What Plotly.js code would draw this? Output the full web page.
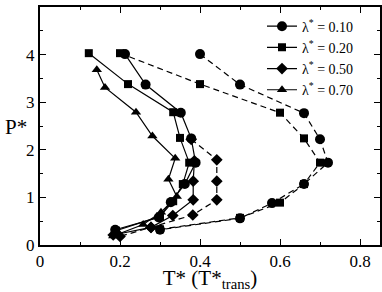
<!DOCTYPE html>
<html>
<head>
<meta charset="utf-8">
<script src="https://cdn.plot.ly/plotly-3.0.1.min.js"></script>
<style>html,body{margin:0;padding:0;background:#fff;}#chart{width:382px;height:292px;}</style>
</head>
<body>
<div id="chart"></div>
<script>
// lambda* = 0.10 (circles)
const circSolidT = [0.2125, 0.264, 0.352, 0.378, 0.389, 0.362, 0.327, 0.297, 0.188];
const circSolidP = [4.01, 3.37, 2.78, 2.24, 1.73, 1.28, 0.90, 0.58, 0.32];
const circDashT  = [0.40, 0.50, 0.66, 0.70, 0.72, 0.66, 0.58, 0.50, 0.30];
const circDashP  = [4.01, 3.37, 2.77, 2.22, 1.73, 1.28, 0.88, 0.56, 0.32];
// lambda* = 0.20 (squares)
const sqSolidT = [0.122, 0.22, 0.333, 0.35, 0.373, 0.357, 0.333, 0.30, 0.19];
const sqSolidP = [4.03, 3.38, 2.79, 2.25, 1.73, 1.28, 0.92, 0.60, 0.30];
const sqDashT  = [0.20, 0.40, 0.60, 0.66, 0.70, 0.66, 0.60, 0.50, 0.30];
const sqDashP  = [4.03, 3.38, 2.78, 2.24, 1.73, 1.28, 0.89, 0.57, 0.33];
// lambda* = 0.50 (diamonds)
const diaSolidT = [0.386, 0.383, 0.383, 0.332, 0.2775, 0.183];
const diaSolidP = [1.77, 1.34, 0.95, 0.62, 0.37, 0.21];
const diaDashT  = [0.378, 0.442, 0.442, 0.442, 0.382, 0.2775, 0.20];
const diaDashP  = [2.22, 1.79, 1.34, 0.95, 0.63, 0.37, 0.18];
// lambda* = 0.70 (triangles)
const triT = [0.142, 0.1625, 0.24, 0.281, 0.338, 0.321, 0.342, 0.3025, 0.258, 0.183];
const triP = [3.68, 3.31, 2.79, 2.29, 1.82, 1.38, 1.02, 0.69, 0.43, 0.19];

const legendLabels = ['0.10', '0.20', '0.50', '0.70'];
const xTickVals = [0, 0.2, 0.4, 0.6, 0.8];
const xTickText = ['0', '0.2', '0.4', '0.6', '0.8'];
const yTickVals = [0, 1, 2, 3, 4, 5];
const yTickText = ['0', '1', '2', '3', '4', '5'];

const FAM = 'Liberation Serif, serif';
function lname(v) {
  return 'λ<sup>*</sup> = ' + v;
}
function tr(x, y, sym, size, dash, name, show) {
  return {
    x: x, y: y, type: 'scatter', mode: 'lines+markers', name: name, showlegend: show,
    line: {color: '#000', width: 1.2, dash: dash},
    marker: {color: '#000', symbol: sym, size: size}
  };
}
const data = [
  tr(circSolidT, circSolidP, 'circle', 10, 'solid', lname(legendLabels[0]), true),
  tr(sqSolidT, sqSolidP, 'square', 8, 'solid', lname(legendLabels[1]), true),
  tr(diaSolidT, diaSolidP, 'diamond', 9, 'solid', lname(legendLabels[2]), true),
  tr(triT, triP, 'triangle-up', 9, 'solid', lname(legendLabels[3]), true),
  tr(circDashT, circDashP, 'circle', 10, '6px,4px', lname(legendLabels[0]), false),
  tr(sqDashT, sqDashP, 'square', 8, '6px,4px', lname(legendLabels[1]), false),
  tr(diaDashT, diaDashP, 'diamond', 9, '6px,4px', lname(legendLabels[2]), false)
];
const layout = {
  width: 382, height: 292,
  margin: {l: 40, r: 2, t: 7, b: 47},
  paper_bgcolor: '#fff', plot_bgcolor: '#fff',
  font: {family: FAM, size: 17, color: '#000'},
  showlegend: true,
  legend: {x: (262 - 40) / 340, xanchor: 'left', y: 0.985, yanchor: 'top', bgcolor: 'rgba(0,0,0,0)',
           font: {family: FAM, size: 14, color: '#000'}, tracegroupgap: 0, itemwidth: 30},
  xaxis: {
    range: [0, 0.85], tickvals: xTickVals, ticktext: xTickText,
    ticks: 'inside', ticklen: 6, tickwidth: 1, tickcolor: '#000',
    minor: {dtick: 0.1, ticks: 'inside', ticklen: 3, tickwidth: 1, tickcolor: '#000'},
    showline: true, linewidth: 2, linecolor: '#000', mirror: 'allticks',
    showgrid: false, zeroline: false,
    tickfont: {family: FAM, size: 17, color: '#000'},
    title: {text: 'T* (T*<sub>trans</sub>)', font: {family: FAM, size: 21, color: '#000'}, standoff: 6}
  },
  yaxis: {
    range: [0, 5], tickvals: yTickVals, ticktext: yTickText,
    ticks: 'inside', ticklen: 6, tickwidth: 1, tickcolor: '#000',
    minor: {dtick: 0.5, ticks: 'inside', ticklen: 3, tickwidth: 1, tickcolor: '#000'},
    showline: true, linewidth: 2, linecolor: '#000', mirror: 'allticks',
    showgrid: false, zeroline: false,
    tickfont: {family: FAM, size: 17, color: '#000'}
  },
  annotations: [{
    text: 'P*', xref: 'paper', yref: 'paper', x: (3 - 40) / 340, y: (245 - 127) / 238,
    xanchor: 'left', yanchor: 'middle',
    showarrow: false, font: {family: FAM, size: 21, color: '#000'}
  }]
};
Plotly.newPlot('chart', data, layout, {displayModeBar: false, staticPlot: true});
</script>
</body>
</html>
